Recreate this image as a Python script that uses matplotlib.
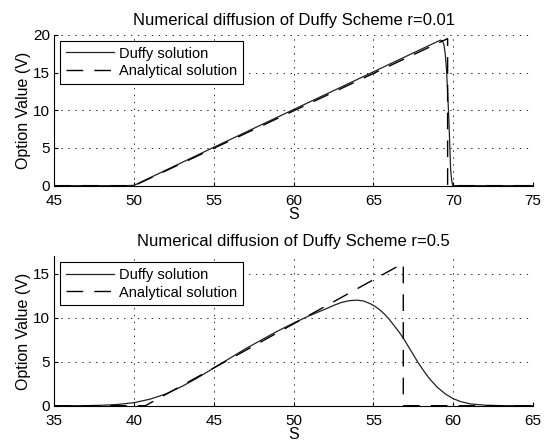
import matplotlib
matplotlib.use('Agg')
import matplotlib.pyplot as plt

plt.rcParams['font.family'] = ['Liberation Sans', 'DejaVu Sans']
plt.rcParams['lines.scale_dashes'] = False

# top panel, r=0.01
s_top_duffy = [45, 49.5, 50, 55, 60, 65, 69.0, 69.2, 69.32, 69.42, 69.5, 69.58, 69.66, 69.73, 69.79, 69.84, 69.9, 69.97, 75]
v_top_duffy = [0, 0, 0.05, 5.1, 10.1, 15.1, 19.1, 19.3, 19.2, 18.7, 17.5, 15.4, 12.0, 8.7, 5.0, 2.1, 0.8, 0, 0]
s_top_exact = [45, 50, 69.65, 69.65, 75]
v_top_exact = [0, 0, 19.5, 0, 0]

# bottom panel, r=0.5
s_bot_duffy = [35, 37, 38, 39, 40, 41, 42, 43, 44, 45, 46, 47, 48, 49, 50, 51, 52, 52.5, 53, 53.5, 54.0,
               54.4, 54.8, 55.1, 55.4, 55.7, 56.0, 56.3, 56.6, 56.9, 57.2, 57.5, 57.8, 58.1, 58.5,
               59.0, 59.5, 60.0, 60.5, 61.1, 62, 63, 65]
v_bot_duffy = [0, 0.01, 0.05, 0.15, 0.35, 0.75, 1.35, 2.2, 3.2, 4.3, 5.4, 6.5, 7.5, 8.5, 9.4, 10.25,
               11.0, 11.4, 11.75, 11.95, 12.0, 11.9, 11.6, 11.3, 10.9, 10.4, 9.8, 9.1, 8.4, 7.6,
               6.7, 5.8, 4.9, 4.1, 3.1, 2.1, 1.35, 0.8, 0.45, 0.2, 0.06, 0.01, 0]
s_bot_exact = [35, 40.7, 56.87, 56.87, 65]
v_bot_exact = [0, 0, 16.2, 0, 0]

panels = [
    (s_top_duffy, v_top_duffy, s_top_exact, v_top_exact, (45, 75), (0, 20), [0, 5, 10, 15, 20],
     'Numerical diffusion of Duffy Scheme r=0.01'),
    (s_bot_duffy, v_bot_duffy, s_bot_exact, v_bot_exact, (35, 65), (0, 17), [0, 5, 10, 15],
     'Numerical diffusion of Duffy Scheme r=0.5'),
]

fig = plt.figure(figsize=(5.5, 4.41), dpi=100)
rects = [[0.099, 0.579, 0.870, 0.342], [0.099, 0.080, 0.870, 0.339]]

for rect, (sd, vd, se, ve, xl, yl, yt, title) in zip(rects, panels):
    ax = fig.add_axes(rect)
    ax.plot(sd, vd, color='#222222', lw=0.9, label='Duffy solution')
    ax.plot(se, ve, color='black', lw=1.0, dashes=(12, 8), label='Analytical solution')
    ax.set_xlim(*xl)
    ax.set_ylim(*yl)
    ax.set_yticks(yt)
    ax.set_xticks(range(xl[0], xl[1] + 1, 5))
    ax.grid(True, color='black', linestyle=(0, (1, 4)), lw=0.6)
    ax.spines['top'].set_visible(False)
    ax.spines['right'].set_visible(False)
    ax.spines['left'].set_linewidth(0.8)
    ax.spines['bottom'].set_linewidth(0.8)
    ax.tick_params(direction='in', length=3, labelsize=11)
    ax.tick_params(axis='x', pad=6)
    ax.tick_params(axis='y', pad=3)
    ax.set_xlabel('S', fontsize=11.5, labelpad=-1)
    ax.set_ylabel('Option Value (V)', fontsize=11.5, labelpad=2)
    ax.set_title(title, fontsize=12, pad=7)
    leg = ax.legend(loc='upper left', fontsize=10.5, handlelength=3.3, fancybox=False,
                    framealpha=1, borderaxespad=0.4, borderpad=0.4, labelspacing=0.25,
                    handletextpad=0.3)
    leg.get_frame().set_edgecolor('black')
    leg.get_frame().set_linewidth(0.8)

fig.savefig('out.png', dpi=100)
